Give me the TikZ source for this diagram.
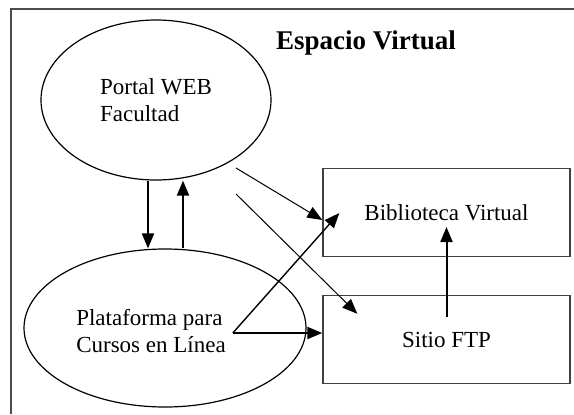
\documentclass[tikz,border=0pt]{standalone}
\usepackage{fontspec}
\setmainfont{Liberation Serif}
\usetikzlibrary{shapes.geometric,arrows.meta,calc}

\begin{document}
\begin{tikzpicture}
		[x=0.5pt,y=-0.5pt,
		oval/.style={ellipse,draw=black,semithick,inner sep=0pt},
		caja/.style={rectangle,draw=black!75,line width=0.7pt,inner sep=0pt,
minimum width=123.5pt,minimum height=44pt},
		textstyle/.style={font=\fontsize{11.5}{13.5}\selectfont,align=left},
		marco/.style={draw=black!70,line width=0.7pt},
		fina/.style={-{Triangle[length=7.5pt,width=6pt]},line width=0.5pt},
		gruesa/.style={-{Triangle[length=7.5pt,width=6pt]},line width=1pt}]
		\useasboundingbox (0,0) rectangle (574,414);
		\draw [marco] (11,414) -- (11,9) -- (574,9);
		\node at (366,49) (titulo) [anchor=base,font=\fontsize{13.5}{16}\selectfont\bfseries] {Espacio Virtual};
		\node at (156,100) (portal) [oval,textstyle,minimum width=115pt,minimum height=80pt] {Portal WEB\\Facultad};
		\node at (165,328) (plataforma) [oval,minimum width=141pt,minimum height=79pt,
			label={[name=platxt,textstyle,xshift=-7pt,yshift=-1.5pt]center:Plataforma para\\Cursos en Línea}] {};
		\node at (446.5,212.5) (biblio) [caja,textstyle] {Biblioteca Virtual};
		\node at (446.5,339.5) (sitio) [caja,textstyle] {Sitio FTP};
		\coordinate (baja) at ($(portal.south)+(-8,0)$);
		\coordinate (sube) at ($(plataforma.north)+(18,0)$);
		\coordinate (salida) at ($(platxt.east)+(0,2)$);
		% entre los dos ovalos
		\draw [gruesa] (baja) -- (baja |- plataforma.north);
		\draw [gruesa] (sube) -- (sube |- portal.south);
		% hacia las cajas
		\draw [fina] ($(portal.center)+(80,68)$) -- ($(biblio.west)+(0,7.5)$);
		\draw [fina] ($(portal.center)+(80,94)$) -- ($(sitio.north west)+(35,19)$);
		\draw [fina,line width=0.7pt] (salida) -- ($(biblio.west)+(17,0.5)$);
		\draw [gruesa] (salida) -- (salida -| sitio.west);
		\draw [gruesa] ($(sitio.center)+(0,-22.5)$) -- ($(biblio.center)+(0,14.5)$);
	\end{tikzpicture}
\end{document}
